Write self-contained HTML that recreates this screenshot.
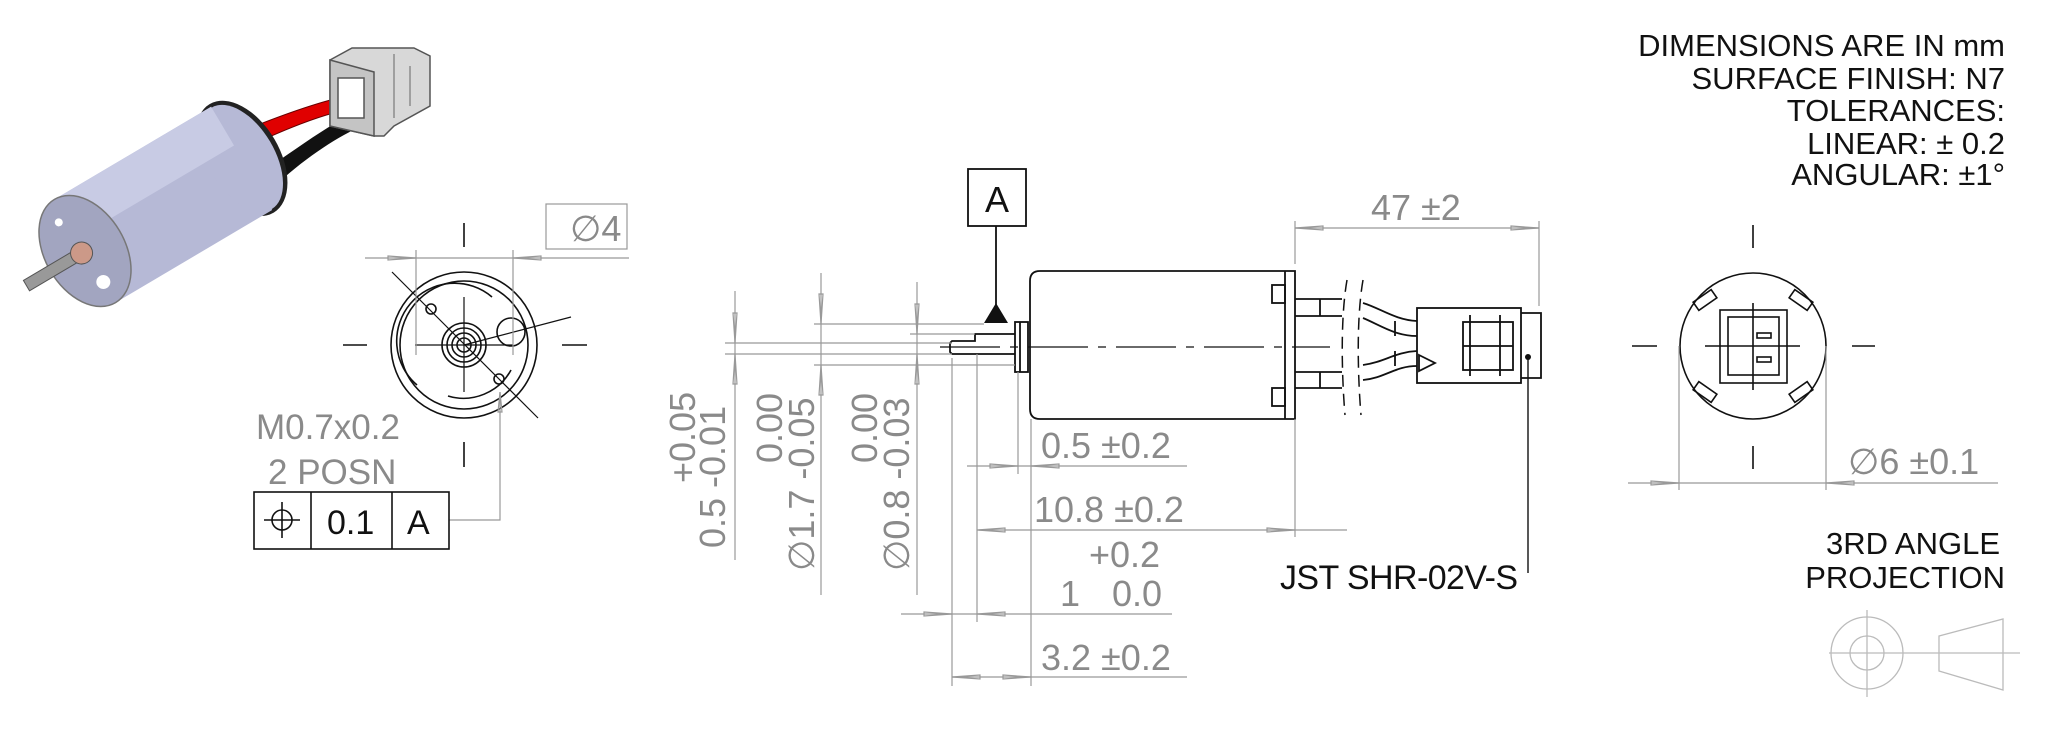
<!DOCTYPE html>
<html><head><meta charset="utf-8"><style>
html,body{margin:0;padding:0;background:#fff;}
svg{display:block;}
.g{fill:#8a8a8a;font-family:"Liberation Sans",sans-serif;}
.k{fill:#111;font-family:"Liberation Sans",sans-serif;}
</style></head><body>
<svg width="2048" height="731" viewBox="0 0 2048 731" xmlns="http://www.w3.org/2000/svg">
<rect width="2048" height="731" fill="#fff"/>

<!-- isometric motor -->
<g>
 <path d="M250,128 C290,112 325,100 352,95 L356,108 C330,112 295,125 258,142 Z" fill="#e00000" stroke="#600" stroke-width="1"/>
 <path d="M262,172 C295,150 328,125 356,112 L358,128 C335,138 300,162 275,186 Z" fill="#111"/>
 <g transform="translate(330,26)">
  <polygon points="0,34 22,22 84,22 100,30 100,80 64,100 54,110 44,110 0,100" fill="#d8d8d8" stroke="#555" stroke-width="1.5"/>
  <polygon points="0,34 44,46 44,110 0,100" fill="#c4c4c4" stroke="#555" stroke-width="1.5"/>
  <rect x="8" y="52" width="26" height="40" fill="#fff" stroke="#555" stroke-width="1.5"/>
  <line x1="64" y1="28" x2="64" y2="92" stroke="#666"/>
  <line x1="80" y1="40" x2="80" y2="80" stroke="#666"/>
 </g>
 <g transform="translate(85,251) rotate(-30.6)">
  <ellipse cx="182" cy="0" rx="38" ry="63" fill="#222"/>
  <rect x="0" y="-60" width="182" height="120" fill="#b6b9d6"/>
  <ellipse cx="182" cy="0" rx="33" ry="59" fill="#b6b9d6"/>
  <rect x="0" y="-60" width="182" height="45" fill="#c8cbe4"/>
  <ellipse cx="0" cy="0" rx="40" ry="60" fill="#a2a5c0" stroke="#777" stroke-width="1.5"/>
  <rect x="-68" y="-6" width="66" height="12" fill="#999" stroke="#555" stroke-width="1"/>
  <circle cx="-4" cy="0" r="11" fill="#c98" stroke="#555"/>
  <circle cx="-8" cy="-38" r="4" fill="#fff"/>
  <circle cx="0" cy="36" r="7" fill="#fff"/>
 </g>
</g>

<!-- front view left -->
<g fill="none" stroke="#111" stroke-width="1.6">
 <circle cx="464" cy="345" r="73"/>
 <circle cx="464" cy="345" r="64"/>
 <path d="M417,385 A54,54 0 0 1 492,297"/>
 <path d="M511,370 A54,54 0 0 1 448,396"/>
 <circle cx="464" cy="345" r="22"/>
 <circle cx="464" cy="345" r="17"/>
 <circle cx="464" cy="345" r="12"/>
 <circle cx="464" cy="345" r="7"/>
 <circle cx="431" cy="309" r="5"/>
 <circle cx="499" cy="379" r="5"/>
 <circle cx="511" cy="332" r="14"/>
 <line x1="392" y1="272" x2="538" y2="418" stroke-width="1.2"/>
 <line x1="464" y1="345" x2="571" y2="317" stroke-width="1.2"/>
 <line x1="464" y1="297" x2="464" y2="392" stroke-width="1.2"/>
 <line x1="415" y1="345" x2="513" y2="345" stroke-width="1.2"/>
 <line x1="343" y1="345" x2="367" y2="345"/>
 <line x1="562" y1="345" x2="587" y2="345"/>
 <line x1="464" y1="223" x2="464" y2="247"/>
 <line x1="464" y1="442" x2="464" y2="467"/>
</g>
<g fill="none" stroke="#999" stroke-width="1.2">
 <line x1="416" y1="250" x2="416" y2="355"/>
 <line x1="513" y1="250" x2="513" y2="355"/>
 <line x1="365" y1="258" x2="629" y2="258"/>
 <polygon points="388,256 416,258 388,260"/>
 <polygon points="541,256 513,258 541,260"/>
 <rect x="546" y="204" width="81" height="45"/>
 <polyline points="449,520 500,520 500,392"/>
 <polygon points="498,412 500,392 502,412"/>
</g>
<text x="570" y="241" class="g" font-size="36">∅4</text>
<text x="256" y="439" class="g" font-size="35">M0.7x0.2</text>
<text x="268" y="484" class="g" font-size="35">2 POSN</text>
<g fill="none" stroke="#111" stroke-width="1.6">
 <rect x="254" y="492" width="195" height="57"/>
 <line x1="311" y1="492" x2="311" y2="549"/>
 <line x1="392" y1="492" x2="392" y2="549"/>
 <circle cx="282" cy="520" r="10"/>
 <line x1="264" y1="520" x2="300" y2="520"/>
 <line x1="282" y1="502" x2="282" y2="538"/>
</g>
<text x="327" y="534" class="k" font-size="34">0.1</text>
<text x="407" y="534" class="k" font-size="34">A</text>

<!-- side view -->
<g fill="none" stroke="#111" stroke-width="1.8">
 <rect x="968" y="169" width="58" height="57"/>
 <line x1="996" y1="226" x2="996" y2="305"/>
 <path d="M1040,271 L1295,271 L1295,419 L1040,419 Q1030,419 1030,409 L1030,281 Q1030,271 1040,271 Z"/>
 <line x1="1285" y1="271" x2="1285" y2="419"/>
 <rect x="1272" y="285" width="13" height="18"/>
 <rect x="1272" y="388" width="13" height="18"/>
 <rect x="1015" y="322" width="13" height="50"/>
 <line x1="1020" y1="322" x2="1020" y2="372"/>
 <polyline points="1015,334 975,334 975,341 952,341 950,343 950,352 952,354 1015,354"/>
 <polyline points="1295,299 1342,299"/><polyline points="1295,316 1342,316"/>
 <polyline points="1295,372 1342,372"/><polyline points="1295,388 1342,388"/>
 <line x1="1320" y1="299" x2="1320" y2="316"/><line x1="1320" y1="372" x2="1320" y2="388"/>
 <path d="M1363,303 C1380,308 1395,320 1417,321"/><path d="M1363,318 C1380,325 1395,336 1417,336"/>
 <path d="M1363,365 C1385,362 1395,352 1417,351"/><path d="M1363,380 C1385,378 1395,366 1417,366"/>
 <line x1="1395" y1="321" x2="1395" y2="336"/><line x1="1395" y1="351" x2="1395" y2="366"/>
 <rect x="1417" y="308" width="104" height="75"/>
 <polyline points="1521,313 1541,313 1541,378 1521,378"/>
 <rect x="1463" y="322" width="50" height="48"/>
 <line x1="1463" y1="346" x2="1513" y2="346"/>
 <line x1="1470" y1="315" x2="1470" y2="376"/><line x1="1500" y1="315" x2="1500" y2="376"/>
 <polygon points="1419,355 1435,363 1419,371"/>
</g>
<text x="997" y="212" class="k" font-size="36" text-anchor="middle">A</text>
<g fill="none" stroke="#111" stroke-width="1.5" stroke-dasharray="12,7">
 <path d="M1347,280 C1340,320 1342,380 1345,415"/>
 <path d="M1363,280 C1356,320 1358,380 1361,415"/>
</g>
<line x1="940" y1="347" x2="1330" y2="347" stroke="#111" stroke-width="1.3" stroke-dasharray="60,10,8,10"/>
<polygon points="984,323 996,303 1008,323" fill="#111"/>
<circle cx="1528" cy="357" r="3" fill="#111"/>
<line x1="1528" y1="357" x2="1528" y2="573" stroke="#111" stroke-width="1.4"/>
<text x="1280" y="589" class="k" font-size="34" textLength="238">JST SHR-02V-S</text>

<g fill="none" stroke="#999" stroke-width="1.2">
 <line x1="814" y1="324" x2="984" y2="324"/>
 <line x1="910" y1="334" x2="975" y2="334"/>
 <line x1="725" y1="343" x2="952" y2="343"/>
 <line x1="725" y1="354" x2="952" y2="354"/>
 <line x1="814" y1="365" x2="1015" y2="365"/>
 <line x1="735" y1="291" x2="735" y2="560"/>
 <line x1="821" y1="273" x2="821" y2="595"/>
 <line x1="917" y1="282" x2="917" y2="595"/>
 <polygon points="733,313 735,343 737,313"/><polygon points="733,384 735,354 737,384"/>
 <polygon points="819,294 821,324 823,294"/><polygon points="819,395 821,365 823,395"/>
 <polygon points="915,304 917,334 919,304"/><polygon points="915,384 917,354 919,384"/>
 <line x1="1018" y1="372" x2="1018" y2="474"/>
 <line x1="1031" y1="419" x2="1031" y2="686"/>
 <line x1="977" y1="354" x2="977" y2="622"/>
 <line x1="952" y1="358" x2="952" y2="686"/>
 <line x1="1295" y1="419" x2="1295" y2="537"/>
 <line x1="967" y1="466" x2="1187" y2="466"/>
 <polygon points="990,464 1018,466 990,468"/><polygon points="1059,464 1031,466 1059,468"/>
 <line x1="979" y1="530" x2="1347" y2="530"/>
 <polygon points="1005,528 977,530 1005,532"/><polygon points="1267,528 1295,530 1267,532"/>
 <line x1="901" y1="614" x2="1172" y2="614"/>
 <polygon points="924,612 952,614 924,616"/><polygon points="1005,612 977,614 1005,616"/>
 <line x1="952" y1="677" x2="1187" y2="677"/>
 <polygon points="980,675 952,677 980,679"/><polygon points="1003,675 1031,677 1003,679"/>
 <line x1="1295" y1="221" x2="1295" y2="264"/>
 <line x1="1539" y1="221" x2="1539" y2="306"/>
 <line x1="1295" y1="228" x2="1539" y2="228"/>
 <polygon points="1323,226 1295,228 1323,230"/><polygon points="1511,226 1539,228 1511,230"/>
</g>
<g class="g" font-size="36">
 <text x="1041" y="458">0.5 ±0.2</text>
 <text x="1034" y="522">10.8 ±0.2</text>
 <text x="1089" y="567">+0.2</text>
 <text x="1060" y="606">1</text>
 <text x="1112" y="606">0.0</text>
 <text x="1041" y="670">3.2 ±0.2</text>
 <text x="1371" y="220">47 ±2</text>
 <text transform="translate(695,483) rotate(-90)">+0.05</text>
 <text transform="translate(725,548) rotate(-90)">0.5 -0.01</text>
 <text transform="translate(782,463) rotate(-90)">0.00</text>
 <text transform="translate(814,571) rotate(-90)">∅1.7 -0.05</text>
 <text transform="translate(877,463) rotate(-90)">0.00</text>
 <text transform="translate(909,571) rotate(-90)">∅0.8 -0.03</text>
</g>

<!-- right view -->
<g fill="none" stroke="#111" stroke-width="1.6">
 <circle cx="1753" cy="346" r="73"/>
 <rect x="1720" y="310" width="67" height="73"/>
 <rect x="1728" y="317" width="51" height="58"/>
 <line x1="1753" y1="303" x2="1753" y2="390"/>
 <line x1="1705" y1="346" x2="1800" y2="346"/>
 <rect x="1757" y="333" width="14" height="5"/><rect x="1757" y="357" width="14" height="5"/>
 <g transform="translate(1705,300) rotate(-35)"><rect x="-11" y="-5" width="22" height="10"/></g>
 <g transform="translate(1801,300) rotate(35)"><rect x="-11" y="-5" width="22" height="10"/></g>
 <g transform="translate(1705,392) rotate(35)"><rect x="-11" y="-5" width="22" height="10"/></g>
 <g transform="translate(1801,392) rotate(-35)"><rect x="-11" y="-5" width="22" height="10"/></g>
 <line x1="1632" y1="346" x2="1657" y2="346"/><line x1="1852" y1="346" x2="1875" y2="346"/>
 <line x1="1753" y1="225" x2="1753" y2="248"/><line x1="1753" y1="446" x2="1753" y2="469"/>
</g>
<g fill="none" stroke="#999" stroke-width="1.2">
 <line x1="1679" y1="346" x2="1679" y2="490"/>
 <line x1="1826" y1="346" x2="1826" y2="490"/>
 <line x1="1628" y1="483" x2="1998" y2="483"/>
 <polygon points="1651,481 1679,483 1651,485"/><polygon points="1854,481 1826,483 1854,485"/>
</g>
<text x="1848" y="474" class="g" font-size="36">∅6 ±0.1</text>

<g class="k" font-size="31" text-anchor="end">
 <text x="2005" y="56">DIMENSIONS ARE IN mm</text>
 <text x="2005" y="89">SURFACE FINISH: N7</text>
 <text x="2005" y="121">TOLERANCES:</text>
 <text x="2005" y="154">LINEAR: ± 0.2</text>
 <text x="2005" y="185">ANGULAR: ±1°</text>
 <text x="2000" y="554">3RD ANGLE</text>
 <text x="2005" y="588">PROJECTION</text>
</g>
<g fill="none" stroke="#bbb" stroke-width="1.3">
 <circle cx="1867" cy="653" r="36"/>
 <circle cx="1867" cy="653" r="17"/>
 <line x1="1829" y1="653" x2="2020" y2="653"/>
 <line x1="1867" y1="610" x2="1867" y2="697"/>
 <polygon points="1939,636 2003,619 2003,690 1939,671"/>
</g>
</svg>
</body></html>
